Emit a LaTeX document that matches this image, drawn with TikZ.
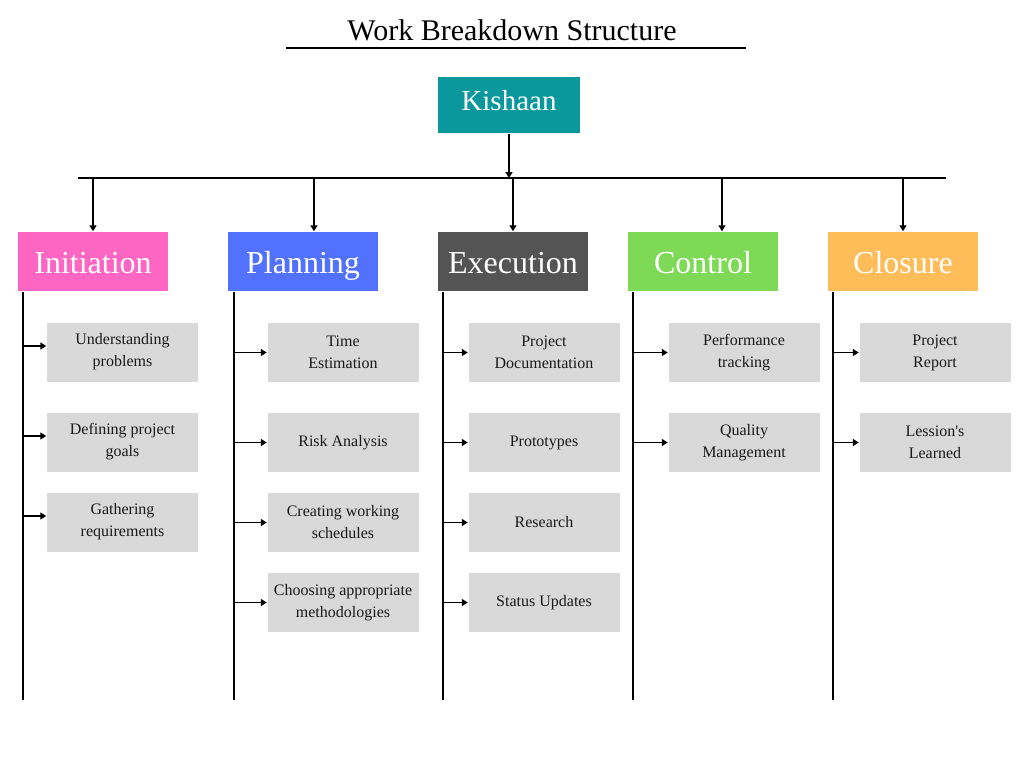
\documentclass[tikz,border=0pt]{standalone}
\usepackage{fontspec}
\setmainfont{Liberation Serif}
\usetikzlibrary{arrows.meta,positioning,calc}
\definecolor{kteal}{HTML}{0A989D}
\definecolor{cinit}{HTML}{FF66C4}
\definecolor{cplan}{HTML}{5271FF}
\definecolor{cexec}{HTML}{545454}
\definecolor{cctrl}{HTML}{7ED957}
\definecolor{cclos}{HTML}{FFBD59}
\definecolor{itemgrey}{HTML}{D9D9D9}
\tikzset{every picture/.style={line width=1.5pt}}
\tikzset{
  topbox/.style={fill=kteal,text=white,minimum width=142pt,minimum height=56pt,text height=20pt,text depth=10pt,font=\fontsize{29}{34}\selectfont},
  phase/.style={text=white,minimum width=150pt,minimum height=59pt,text height=27pt,text depth=4pt,font=\fontsize{32}{38}\selectfont},
  item/.style={fill=itemgrey,text=black!90,minimum width=151pt,minimum height=59pt,align=center,font=\fontsize{16}{22}\selectfont},
  arr/.style={-{Triangle[length=6pt,width=7pt]}}
}

\begin{document}
\begin{tikzpicture}[x=1pt,y=-1pt]
    \useasboundingbox (0,0) rectangle (1024,768);
    % title
    \node[font=\fontsize{30}{36}\selectfont] (title) at (512,30) {Work Breakdown Structure};
    \coordinate (tl) at (286,48);
    \coordinate (tr) at (746,48);
    \draw (tl) -- (tr);

    % root and bar
    \node[topbox] (kish) at (509,105) {Kishaan};
    \coordinate (barL) at (78,178);
    \coordinate (barR) at (946,178);
    \draw (barL) -- (barR);
    \draw[arr] (kish.south) -- (kish.south |- barL);

    % phases
    \node[phase,fill=cinit] (init) at (93,261.5) {Initiation};
    \node[phase,fill=cplan] (plan) at (303,261.5) {Planning};
    \node[phase,fill=cexec] (exec) at (513,261.5) {Execution};
    \node[phase,fill=cctrl] (ctrl) at (703,261.5) {Control};
    \node[phase,fill=cclos] (clos) at (903,261.5) {Closure};

    \coordinate (b1) at (93,178);
    \coordinate (b2) at (314,178);
    \coordinate (b3) at (513,178);
    \coordinate (b4) at (722,178);
    \coordinate (b5) at (903,178);
    \draw[arr] (b1) -- (b1 |- init.north);
    \draw[arr] (b2) -- (b2 |- plan.north);
    \draw[arr] (b3) -- (b3 |- exec.north);
    \draw[arr] (b4) -- (b4 |- ctrl.north);
    \draw[arr] (b5) -- (b5 |- clos.north);

    % spines
    \coordinate (s1) at (23,700);
    \coordinate (s2) at (234,700);
    \coordinate (s3) at (443,700);
    \coordinate (s4) at (633,700);
    \coordinate (s5) at (833,700);
    \draw (s1 |- init.south) -- (s1);
    \draw (s2 |- plan.south) -- (s2);
    \draw (s3 |- exec.south) -- (s3);
    \draw (s4 |- ctrl.south) -- (s4);
    \draw (s5 |- clos.south) -- (s5);

    % initiation
    \node[item] (u1) at (122.5,352) {Understanding\\problems};
    \node[item] (u2) at (122.5,442) {Defining project\\goals};
    \node[item] (u3) at (122.5,522) {Gathering\\requirements};
    \draw[arr] ($(s1 |- u1.west)+(0,-6)$) -- ($(u1.west)+(0,-6)$);
    \draw[arr] ($(s1 |- u2.west)+(0,-6)$) -- ($(u2.west)+(0,-6)$);
    \draw[arr] ($(s1 |- u3.west)+(0,-6)$) -- ($(u3.west)+(0,-6)$);

    % planning
    \node[item] (p1) at (343,352.5) {Time\\Estimation};
    \node[item] (p2) at (343,442.5) {Risk Analysis};
    \node[item] (p3) at (343,522.5) {Creating working\\schedules};
    \node[item] (p4) at (343,602.5) {Choosing appropriate\\methodologies};
    \draw[arr] (s2 |- p1.west) -- (p1.west);
    \draw[arr] (s2 |- p2.west) -- (p2.west);
    \draw[arr] (s2 |- p3.west) -- (p3.west);
    \draw[arr] (s2 |- p4.west) -- (p4.west);

    % execution
    \node[item] (e1) at (544,352.5) {Project\\Documentation};
    \node[item] (e2) at (544,442.5) {Prototypes};
    \node[item] (e3) at (544,522.5) {Research};
    \node[item] (e4) at (544,602.5) {Status Updates};
    \draw[arr] (s3 |- e1.west) -- (e1.west);
    \draw[arr] (s3 |- e2.west) -- (e2.west);
    \draw[arr] (s3 |- e3.west) -- (e3.west);
    \draw[arr] (s3 |- e4.west) -- (e4.west);

    % control
    \node[item] (c1) at (744,352.5) {Performance\\tracking};
    \node[item] (c2) at (744,442.5) {Quality\\Management};
    \draw[arr] (s4 |- c1.west) -- (c1.west);
    \draw[arr] (s4 |- c2.west) -- (c2.west);

    % closure
    \node[item] (r1) at (935,352.5) {Project\\Report};
    \node[item] (r2) at (935,442.5) {Lession\textquotesingle s\\Learned};
    \draw[arr] (s5 |- r1.west) -- (r1.west);
    \draw[arr] (s5 |- r2.west) -- (r2.west);
\end{tikzpicture}
\end{document}
